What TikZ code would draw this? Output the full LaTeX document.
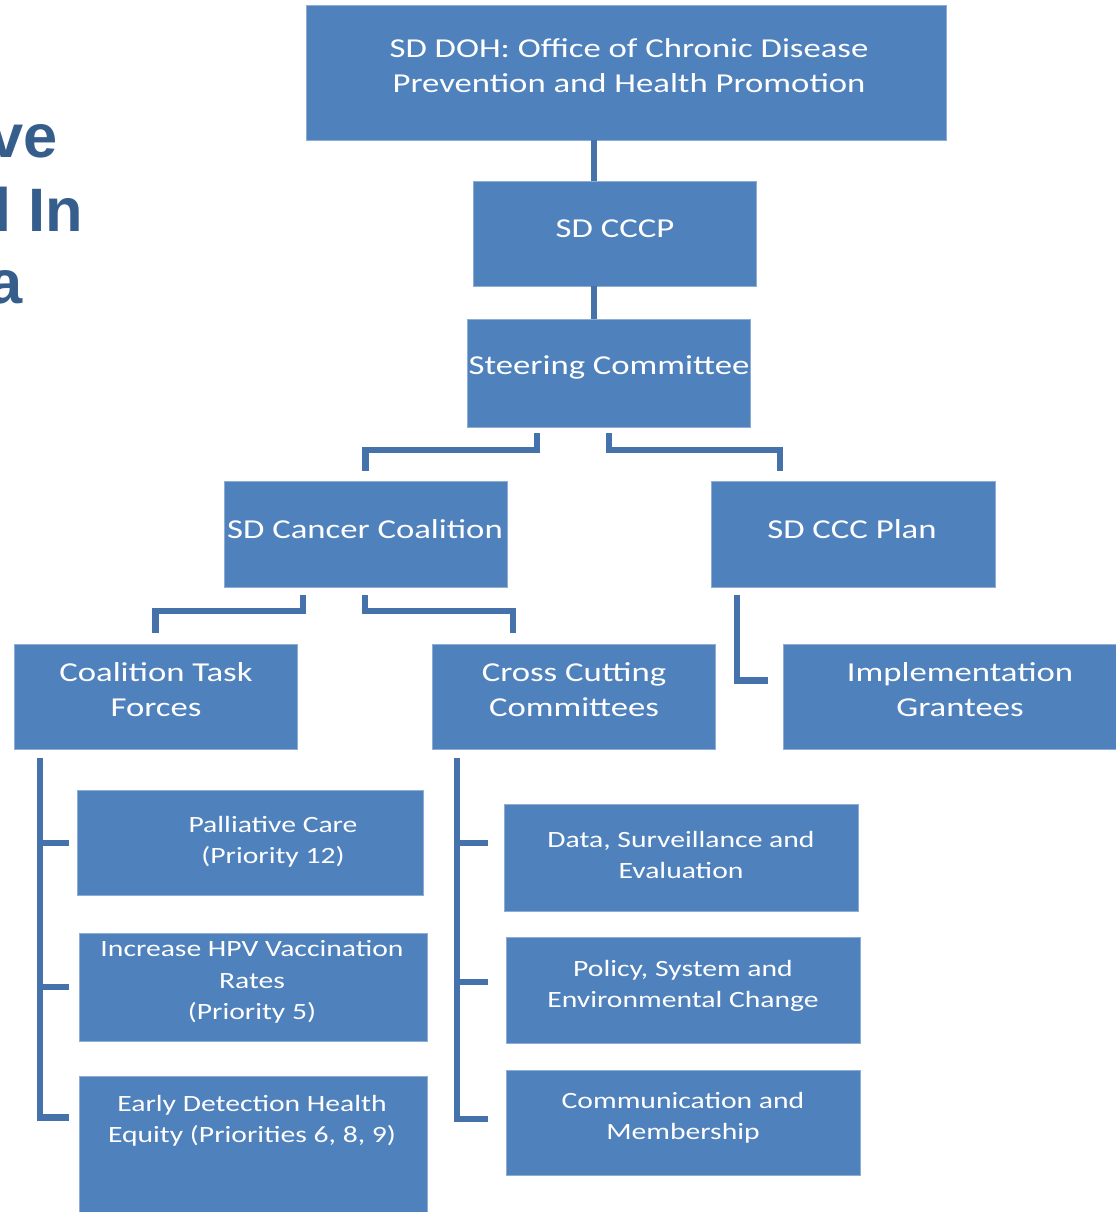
\documentclass[tikz,border=0pt]{standalone}
\usepackage{fontspec}
\setmainfont{Carlito}[FakeStretch=1.27]
\newfontfamily\titlefont{Liberation Sans}
\usetikzlibrary{fit,calc}
\definecolor{boxblue}{HTML}{4F81BD}
\definecolor{linkblue}{HTML}{4672AC}
\definecolor{titleblue}{HTML}{355E8C}
\begin{document}
\begin{tikzpicture}[x=0.75pt,y=-0.75pt,
  box/.style={fill=boxblue, draw=boxblue!65!white, line width=0.6pt, inner sep=0pt},
  bigtxt/.style={text=white, align=center, inner sep=0pt, font=\fontsize{20.5}{26.2}\selectfont},
  smalltxt/.style={text=white, align=center, inner sep=0pt, font=\fontsize{17.5}{23.6}\selectfont},
  link/.style={draw=linkblue, line width=5pt},
  ttl/.style={text=titleblue, anchor=base east, inner sep=0pt, font=\titlefont\bfseries\fontsize{46}{55}\selectfont}]
\useasboundingbox (0,0) rectangle (1115,1212);
\fill[white] (0,0) rectangle (1115,1212);

% title fragments
\node[ttl] (t1) at (58,158) {ve};
\node[ttl] (t2) at (83,232) {l In};
\node[ttl] (t3) at (23,303) {a};

% boxes
\node[box, fit={(306,5) (946,140)}] (doh) {};
\node[box, fit={(473,181) (756,286)}] (cccp) {};
\node[box, fit={(467,319) (750,427)}] (steer) {};
\node[box, fit={(224,481) (507,587)}] (coal) {};
\node[box, fit={(711,481) (995,587)}] (plan) {};
\node[box, fit={(14,644) (297,749)}] (task) {};
\node[box, fit={(432,644) (715,749)}] (cross) {};
\node[box, fit={(783,644) (1137,749)}] (impl) {};
\node[box, fit={(77,790) (423,895)}] (pall) {};
\node[box, fit={(79,933) (427,1041)}] (hpv) {};
\node[box, fit={(79,1076) (427,1240)}] (early) {};
\node[box, fit={(504,804) (858,911)}] (data) {};
\node[box, fit={(506,937) (860,1043)}] (policy) {};
\node[box, fit={(506,1070) (860,1175)}] (comm) {};

% texts
\node[bigtxt] (doht) at (629,66) {SD DOH: Office of Chronic Disease\\Prevention and Health Promotion};
\node[bigtxt] (cccpt) at (615,229) {SD CCCP};
\node[bigtxt] (steert) at (609,367) {Steering Committee};
\node[bigtxt] (coalt) at (365,529) {SD Cancer Coalition};
\node[bigtxt] (plant) at (852,529) {SD CCC Plan};
\node[bigtxt] (taskt) at (156,690) {Coalition Task\\Forces};
\node[bigtxt] (crosst) at (574,690) {Cross Cutting\\Committees};
\node[bigtxt] (implt) at (960,690) {Implementation\\Grantees};
\node[smalltxt] (pallt) at (273,842) {Palliative Care\\(Priority 12)};
\node[smalltxt] (hpvt) at (252,982) {Increase HPV Vaccination\\Rates\\(Priority 5)};
\node[smalltxt] (earlyt) at (252,1121) {Early Detection Health\\Equity (Priorities 6, 8, 9)};
\node[smalltxt] (datat) at (681,855) {Data, Surveillance and\\Evaluation};
\node[smalltxt] (policyt) at (683,986) {Policy, System and\\Environmental Change};
\node[smalltxt] (commt) at (683,1118) {Communication and\\Membership};

% connectors
\draw[link] (doh.south -| 594,0) -- (cccp.north -| 594,0);
\draw[link] (cccp.south -| 594,0) -- (steer.north -| 594,0);
\draw[link] ($(steer.south -| 537,0)+(0,6)$) -- (537,450) -| ($(coal.north)+(0,-10)$);
\draw[link] ($(steer.south -| 609,0)+(0,6)$) -- (609,450) -| ($(plan.north -| 780,0)+(0,-10)$);
\draw[link] ($(coal.south -| 303,0)+(0,8)$) -- (303,611) -| ($(task.north)+(0,-11)$);
\draw[link] ($(coal.south -| 365,0)+(0,8)$) -- (365,611) -| ($(cross.north -| 513,0)+(0,-11)$);
\draw[link] ($(plan.south -| 737,0)+(0,8)$) |- ($(impl.west)+(-15,-16)$);
\draw[link] ($(task.south -| 40,0)+(0,9)$) |- ($(early.north west)+(-10,42)$);
\draw[link] (40,843) -- ($(pall.west |- 0,843)+(-8,0)$);
\draw[link] (40,987) -- ($(hpv.west |- 0,987)+(-10,0)$);
\draw[link] ($(cross.south -| 457,0)+(0,9)$) |- ($(comm.west |- 0,1119)+(-18,0)$);
\draw[link] (457,843) -- ($(data.west |- 0,843)+(-16,0)$);
\draw[link] (457,982) -- ($(policy.west |- 0,982)+(-18,0)$);
\end{tikzpicture}
\end{document}
